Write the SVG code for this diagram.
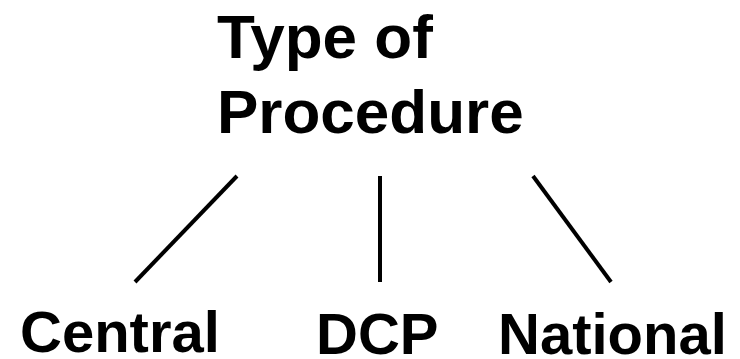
<svg xmlns="http://www.w3.org/2000/svg" width="740" height="359" viewBox="0 0 740 359">
  <style>
    .title { font-family: "Liberation Sans", Arial, Helvetica, sans-serif; font-weight: bold; font-size: 62px; fill: #000; }
    .leaf { font-family: "Liberation Sans", Arial, Helvetica, sans-serif; font-weight: bold; font-size: 58px; fill: #000; }
    .edge { stroke: #000; stroke-width: 4; stroke-linecap: butt; fill: none; }
  </style>
  <rect width="740" height="359" fill="#fff"/>

  <g id="root">
    <text class="title" x="217" y="58">Type of</text>
    <text class="title" x="217" y="133">Procedure</text>
  </g>

  <g id="connectors">
    <line class="edge" x1="237" y1="176" x2="135" y2="282"/>
    <line class="edge" x1="380" y1="176" x2="380" y2="282"/>
    <line class="edge" x1="533" y1="176" x2="611" y2="282"/>
  </g>

  <g id="central">
    <text class="leaf" x="20" y="352">Central</text>
  </g>
  <g id="dcp">
    <text class="leaf" x="316" y="354">DCP</text>
  </g>
  <g id="national">
    <text class="leaf" x="498" y="354">National</text>
  </g>
</svg>
